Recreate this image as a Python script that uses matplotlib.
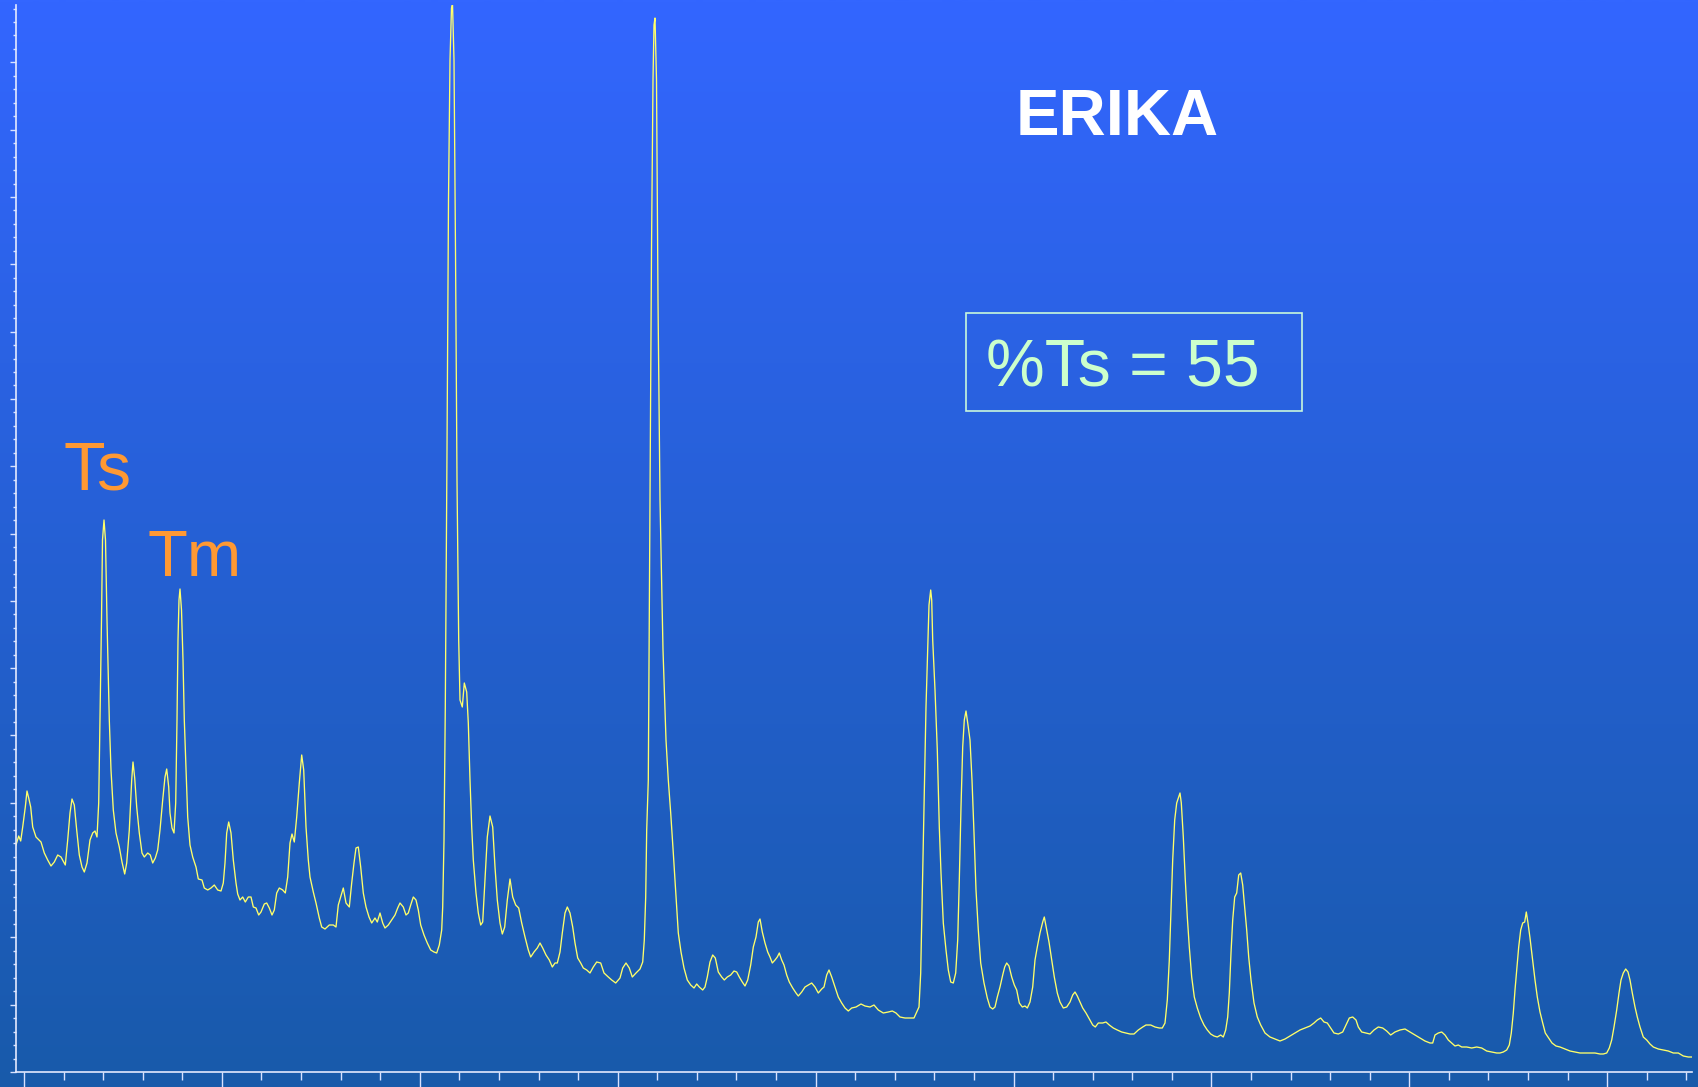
import numpy as np
import matplotlib
matplotlib.use("Agg")
import matplotlib.pyplot as plt
from matplotlib.ticker import FixedLocator, NullFormatter
from matplotlib.patches import Rectangle

# ---- data: chromatogram trace (scan number, abundance) ----
scan = [
    16, 18.7, 20.7, 22.7, 25.3, 27, 28.7, 30.7, 32.7, 36, 41, 44.3, 47.7, 51, 54.3, 57.7, 61, 65.3, 67.7, 70,
    72, 74.3, 76.7, 79.3, 82, 84.3, 87, 90, 92.7, 95, 97, 98.7, 100, 101.5, 102.5, 104, 105.5, 107, 109.3, 111,
    113.3, 116, 119.3, 122, 124.7, 126.7, 129.3, 131.7, 133, 134.7, 136.7, 139.3, 142, 144.3, 147.7, 150.3, 152.7, 155.3, 157.7, 160,
    162.7, 165, 166.7, 168.7, 170, 172, 174, 175.7, 177, 178, 179, 180, 181.5, 183, 184.3, 186, 187.7, 190, 192.7, 196,
    198.3, 202, 204.3, 207.7, 211, 214.3, 217.7, 221, 223.3, 225, 226.7, 228.7, 231, 233.3, 236, 237.7, 240, 242.7, 245.3, 248.3,
    251, 253.3, 256, 258.7, 261, 264.3, 266.7, 269.3, 272, 274.3, 276.7, 279.3, 282.7, 285.3, 287.7, 290, 292, 294.3, 296.7, 299.3,
    301.7, 303.7, 306, 308.3, 310, 313.3, 316, 319.3, 321.7, 325, 329.3, 333.3, 336, 338.3, 340.7, 343.3, 346, 349.3, 351.7, 354,
    356, 358.3, 360.7, 363.3, 366, 369, 371.7, 375, 377.3, 380, 382.7, 385, 388.3, 391.7, 395, 397.7, 400, 403.3, 406, 408.3,
    410.7, 413.3, 416, 418.3, 420.7, 424, 427.3, 430.7, 434, 436.7, 439.3, 441.7, 442.7, 444, 445.3, 447, 448.5, 450, 451.5, 452.5,
    454, 455.5, 457, 458.7, 460, 462.3, 464.3, 466.7, 468.3, 470, 471.7, 473.3, 476, 478.3, 480.7, 482.7, 485, 487.3, 490, 492.7,
    495, 497.3, 500, 502.3, 504.7, 507.3, 510, 512.7, 515.7, 518.7, 521.7, 525, 528.3, 530.7, 534, 537.3, 540, 542.7, 546, 549.3,
    552.3, 555, 557.3, 560, 562.3, 565, 567.3, 570, 572.7, 575, 577.7, 580.7, 583.3, 586.7, 590, 593.3, 596.7, 600.7, 604, 608.3,
    611.7, 615.7, 620, 622.7, 626, 629.3, 632.3, 636, 640, 642.7, 644.3, 645.7, 646.7, 648.3, 650, 651.5, 653, 654, 655, 656.5,
    658, 660, 663, 666, 668.3, 670.7, 673.3, 676, 678.3, 681, 684, 687.3, 690.7, 694, 696.7, 699.3, 702.7, 705, 707.3, 710,
    712.7, 715.3, 718.3, 721.7, 724.3, 727.3, 730.7, 734, 736.7, 739.3, 742.3, 745, 747.7, 750.7, 753.3, 756, 758.3, 760, 762.3, 765,
    767.7, 770, 772.3, 775, 777.3, 779.3, 781.7, 784, 786.7, 789.3, 792.7, 796, 798.3, 801.7, 805, 808.3, 811.7, 815, 818.3, 821.7,
    824, 826.7, 829, 831.7, 835, 838.3, 841.7, 845, 848.3, 851.7, 856, 861, 865, 870, 874, 878.3, 883.3, 888.3, 892.3, 896,
    900, 905, 910, 914, 916.7, 919, 920.7, 922, 924, 926, 927.7, 929, 930.7, 931.7, 932.7, 935, 937.3, 939.3, 941, 943.3,
    946, 948.3, 950.7, 953.3, 955.7, 957.7, 959.3, 961, 962.7, 964.3, 966, 968, 970, 972, 974, 976, 978.3, 980.7, 984, 987.3,
    990, 992.7, 995, 997.3, 1000, 1002.7, 1004.7, 1006.7, 1009, 1011.7, 1014.3, 1016.7, 1019.3, 1022.3, 1025, 1027.3, 1030, 1032.7, 1035, 1037.3,
    1040, 1042.7, 1044.3, 1046.7, 1049, 1051.7, 1054.3, 1057.3, 1060, 1063.3, 1066.7, 1070, 1072.7, 1075, 1077.3, 1080, 1082.7, 1086, 1089.3, 1092.7,
    1095.3, 1098.3, 1102.7, 1106, 1109.3, 1113.3, 1117.3, 1121.7, 1126, 1130, 1134, 1138.3, 1142.7, 1146, 1150.7, 1155, 1159.3, 1162.3, 1165, 1167.3,
    1169.3, 1171, 1172.7, 1174.7, 1176.7, 1178.7, 1180, 1181.3, 1183.3, 1185.3, 1187.3, 1189.3, 1191.7, 1194.3, 1197.3, 1200.7, 1204, 1207.3, 1210.7, 1214,
    1217.3, 1220.7, 1223.3, 1225.7, 1227.7, 1229.3, 1231, 1232.7, 1234.7, 1236.7, 1238.7, 1240.7, 1242.7, 1244.7, 1246.7, 1248.7, 1251, 1254, 1257.3, 1260.7,
    1265, 1270, 1275, 1280, 1285, 1290, 1295, 1300, 1305, 1310, 1314, 1317.3, 1320.7, 1324, 1327.3, 1330.7, 1334, 1338.3, 1342.7, 1346,
    1349.3, 1352.7, 1356, 1358.3, 1361.7, 1366, 1370, 1374, 1378.3, 1382.7, 1386.7, 1390.7, 1395, 1400, 1405, 1410, 1415, 1420, 1425, 1430,
    1432.7, 1435, 1438.3, 1441.7, 1445, 1448.3, 1451.7, 1455, 1458.3, 1461.7, 1466.7, 1471.7, 1476.7, 1481.7, 1486.7, 1491.7, 1496.7, 1500, 1503.3, 1506.7,
    1509.3, 1511.3, 1513.3, 1515, 1516.7, 1518.7, 1520.7, 1522.7, 1524.7, 1526.3, 1528, 1530, 1532.3, 1535, 1537.3, 1540, 1542.7, 1545.3, 1548.7, 1552,
    1556, 1560, 1565, 1570, 1575, 1580, 1585, 1590, 1595, 1600, 1603.3, 1606.7, 1609.3, 1611.7, 1614, 1616.7, 1619, 1621, 1623.3, 1625.7,
    1628, 1630, 1632.3, 1635, 1637.3, 1640, 1643.3, 1646.7, 1650, 1653.3, 1658.3, 1663.3, 1668.3, 1673.3, 1678.3, 1683.3, 1688.3, 1691.7,
]
abundance = [
    227, 236, 231, 245, 265, 281, 274, 265, 245, 235, 230, 219, 212, 206, 210, 217, 215, 207, 232, 259,
    273, 267, 242, 217, 205, 200, 209, 232, 239, 241, 235, 269, 352, 452, 532, 552, 532, 452, 352, 302,
    262, 239, 225, 210, 198, 209, 242, 292, 310, 294, 265, 239, 219, 215, 219, 217, 209, 214, 222, 242,
    272, 295, 303, 285, 259, 244, 239, 269, 352, 432, 472, 483, 462, 412, 352, 302, 255, 227, 215, 205,
    193, 192, 184, 182, 184, 187, 182, 181, 189, 209, 239, 250, 239, 212, 189, 178, 172, 175, 170, 175,
    175, 165, 164, 157, 160, 168, 169, 164, 157, 162, 179, 184, 182, 179, 195, 229, 238, 230, 255, 289,
    317, 302, 245, 212, 195, 180, 169, 154, 145, 143, 147, 147, 145, 167, 175, 184, 169, 165, 189, 209,
    224, 225, 205, 179, 165, 155, 149, 154, 150, 159, 149, 144, 147, 152, 157, 164, 169, 165, 157, 159,
    167, 175, 172, 162, 147, 137, 129, 122, 120, 119, 127, 142, 165, 232, 365, 622, 872, 1012, 1064, 1068,
    1012, 822, 592, 432, 372, 365, 389, 380, 349, 292, 245, 212, 179, 159, 147, 150, 192, 235, 256, 245,
    205, 172, 149, 138, 145, 172, 193, 175, 167, 164, 149, 135, 122, 115, 120, 124, 129, 124, 117, 112,
    105, 109, 109, 120, 139, 159, 165, 159, 145, 129, 114, 109, 104, 102, 99, 105, 110, 109, 99, 95,
    92, 89, 94, 104, 109, 104, 95, 99, 103, 110, 132, 175, 242, 292, 572, 822, 992, 1047, 1054, 992,
    772, 572, 422, 332, 292, 259, 219, 175, 139, 120, 104, 92, 87, 84, 88, 85, 82, 85, 95, 110,
    117, 114, 100, 95, 92, 95, 97, 101, 100, 95, 90, 86, 92, 107, 125, 135, 150, 153, 140, 129,
    120, 115, 109, 112, 115, 119, 112, 107, 97, 90, 84, 79, 76, 80, 85, 87, 89, 85, 79, 83,
    85, 97, 102, 95, 85, 75, 69, 64, 61, 64, 65, 68, 66, 65, 67, 62, 59, 60, 61, 59,
    55, 54, 54, 54, 60, 65, 99, 165, 265, 365, 422, 467, 482, 472, 432, 382, 322, 245, 199, 149,
    122, 102, 90, 89, 99, 132, 192, 265, 325, 352, 361, 347, 332, 292, 239, 182, 142, 109, 89, 74,
    65, 63, 65, 75, 85, 97, 105, 109, 106, 95, 87, 82, 69, 65, 66, 64, 70, 85, 112, 125,
    139, 150, 155, 142, 130, 112, 95, 79, 70, 64, 65, 70, 77, 80, 76, 70, 64, 59, 53, 47,
    45, 49, 49, 50, 47, 44, 42, 40, 39, 38, 38, 42, 45, 47, 47, 45, 44, 44, 49, 72,
    112, 162, 212, 252, 269, 275, 279, 269, 235, 192, 155, 125, 95, 75, 64, 54, 47, 42, 38, 36,
    35, 37, 35, 42, 55, 79, 119, 152, 175, 179, 197, 199, 187, 165, 142, 115, 92, 69, 55, 47,
    39, 35, 33, 31, 33, 36, 39, 42, 44, 46, 49, 52, 54, 50, 49, 44, 39, 38, 40, 47,
    54, 55, 52, 45, 40, 39, 38, 42, 45, 44, 41, 37, 40, 42, 43, 40, 37, 34, 31, 29,
    29, 37, 39, 40, 37, 32, 29, 26, 27, 25, 25, 24, 25, 24, 21, 20, 19, 19, 20, 22,
    27, 39, 59, 82, 102, 125, 142, 149, 150, 160, 149, 134, 115, 92, 75, 60, 49, 39, 34, 29,
    26, 25, 23, 21, 20, 19, 19, 19, 19, 18, 18, 19, 24, 32, 45, 62, 79, 92, 99, 103,
    100, 92, 79, 65, 55, 45, 35, 32, 28, 25, 23, 22, 21, 19, 19, 16, 15, 15,
]

title_text = "ERIKA"
peak_labels = ["Ts", "Tm"]
ratio_text = "%Ts = 55"

# ---- figure ----
W, H = 1699, 1087
fig = plt.figure(figsize=(W / 100, H / 100), dpi=100)

# gradient background
bg = fig.add_axes([0, 0, 1, 1], zorder=0)
top = np.array([51, 102, 255]) / 255.0
bot = np.array([24, 90, 170]) / 255.0
t = np.linspace(0, 1, 256)[:, None]
grad = (top[None, :] * (1 - t) + bot[None, :] * t)[:, None, :]
bg.imshow(grad, aspect="auto", extent=[0, 1, 0, 1], interpolation="bilinear")
bg.set_axis_off()

def fx(px):
    return px / W

def fy(py):
    return 1 - py / H

ax_l, ax_r, ax_t, ax_b = 16, 1692, 5, 1072
ax = fig.add_axes([fx(ax_l), fy(ax_b), (ax_r - ax_l) / W, (ax_b - ax_t) / H], zorder=1)
ax.set_facecolor("none")

ax.plot(scan, abundance, color="#FFFF6A", lw=0.95, solid_joinstyle="round")

ax.set_xlim(16, 1692)
ax.set_ylim(0, 1067)

for s in ["top", "right"]:
    ax.spines[s].set_visible(False)
for s in ["left", "bottom"]:
    ax.spines[s].set_color("#E4EAFF")
    ax.spines[s].set_linewidth(1.2)

ax.xaxis.set_major_locator(FixedLocator(np.arange(24, 1692, 197.9)))
ax.xaxis.set_minor_locator(FixedLocator(np.arange(24, 1692, 39.58)))
ax.yaxis.set_major_locator(FixedLocator(np.arange(0, 1067, 67.31)))
ax.yaxis.set_minor_locator(FixedLocator(np.arange(0, 1067, 13.462)))
ax.xaxis.set_major_formatter(NullFormatter())
ax.yaxis.set_major_formatter(NullFormatter())
ax.tick_params(axis="x", which="major", direction="out", length=12, width=1.0, color="#D8E2FF")
ax.tick_params(axis="x", which="minor", direction="out", length=6, width=1.0, color="#D8E2FF")
ax.tick_params(axis="y", which="major", direction="out", length=4.5, width=1.0, color="#D8E2FF")
ax.tick_params(axis="y", which="minor", direction="out", length=2.3, width=1.0, color="#D8E2FF")

# ---- texts ----
font = "Liberation Sans"
fig.text(fx(1117), fy(135.4), title_text, ha="center", va="baseline",
         fontsize=47, fontweight="bold", color="white", family=font, zorder=3)
fig.text(fx(64), fy(489.7), peak_labels[0], ha="left", va="baseline",
         fontsize=49, color="#FF9933", family=font, zorder=3)
fig.text(fx(148), fy(576.4), peak_labels[1], ha="left", va="baseline",
         fontsize=47, color="#FF9933", family=font, zorder=3)
fig.text(fx(986), fy(386.7), ratio_text, ha="left", va="baseline",
         fontsize=47.5, color="#CCFFCC", family=font, zorder=3)

box = Rectangle((fx(965.7), fy(411)), (1302.3 - 965.7) / W, (411 - 313) / H,
                transform=fig.transFigure, fill=False, edgecolor="#C8F7DC", lw=1.2, zorder=3)
fig.patches.append(box)

fig.savefig("out.png", dpi=100)
